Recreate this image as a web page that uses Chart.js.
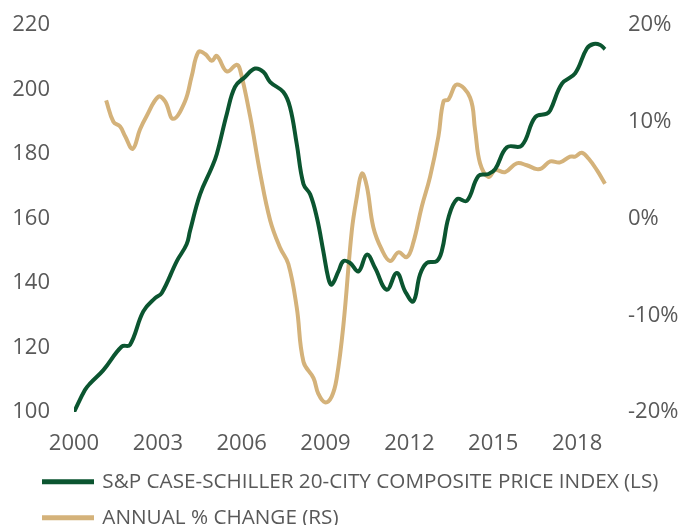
<!DOCTYPE html>
<html>
<head>
<meta charset="utf-8">
<script src="https://cdn.jsdelivr.net/npm/chart.js@4"></script>
<style>
  html, body { margin: 0; padding: 0; background: #fff; }
  #wrap { width: 699px; height: 525px; }
</style>
</head>
<body>
<div id="wrap"><canvas id="chart"></canvas></div>
<script>
const xTicks = [2000, 2003, 2006, 2009, 2012, 2015, 2018]

// S&P Case-Shiller 20-city index (left scale)
const indexYears = [
  2000.0, 2000.39, 2000.57, 2001.05, 2001.71, 2002.0, 2002.48, 2002.9, 2003.14, 2003.68,
  2004.03, 2004.15, 2004.51, 2004.93, 2005.11, 2005.47, 2005.76, 2006.12, 2006.48, 2006.78,
  2007.02, 2007.49, 2007.73, 2007.97, 2008.21, 2008.45, 2008.69, 2008.92, 2009.1, 2009.22,
  2009.46, 2009.64, 2009.88, 2010.18, 2010.48, 2010.77, 2011.19, 2011.55, 2011.85, 2012.14,
  2012.38, 2012.62, 2012.98, 2013.16, 2013.4, 2013.7, 2014.06, 2014.47, 2014.83, 2015.07,
  2015.49, 2016.02, 2016.5, 2016.92, 2017.04, 2017.46, 2017.93, 2018.35, 2018.59, 2018.83,
  2019.0,
]
const indexValues = [
  100, 106.8, 108.8, 113.0, 120.3, 120.8, 131.2, 135.3, 136.9, 146.8,
  152.0, 156.1, 167.5, 175.8, 180.0, 192.5, 200.8, 203.9, 206.5, 205.4,
  202.3, 199.2, 194.5, 183.1, 170.7, 167.5, 160.3, 149.9, 141.5, 139.5,
  143.6, 146.8, 146.2, 143.6, 148.8, 144.7, 137.9, 143.1, 137.4, 134.3,
  142.6, 146.2, 146.8, 149.9, 160.3, 166.0, 165.5, 173.2, 173.8, 175.3,
  182.1, 182.6, 191.4, 192.5, 193.5, 201.8, 205.0, 212.7, 214.1, 213.8,
  212.5,
]

// annual % change (right scale)
const changeYears = [
  2001.15, 2001.41, 2001.65, 2001.83, 2002.1, 2002.36, 2002.6, 2003.02, 2003.26, 2003.55,
  2003.97, 2004.21, 2004.45, 2004.69, 2004.93, 2005.11, 2005.47, 2005.82, 2005.94, 2006.3,
  2006.66, 2007.02, 2007.37, 2007.67, 2007.97, 2008.21, 2008.57, 2008.74, 2008.98, 2009.22,
  2009.4, 2009.64, 2009.94, 2010.12, 2010.3, 2010.48, 2010.71, 2011.01, 2011.31, 2011.61,
  2011.91, 2012.14, 2012.44, 2012.74, 2013.04, 2013.22, 2013.4, 2013.7, 2014.17, 2014.35,
  2014.53, 2014.83, 2015.07, 2015.43, 2015.84, 2016.2, 2016.56, 2016.74, 2017.04, 2017.39,
  2017.75, 2017.93, 2018.17, 2018.41, 2018.71, 2019.0,
]
const changeValues = [
  12.2, 10.0, 9.5, 8.5, 7.2, 9.2, 10.6, 12.6, 12.1, 10.3,
  12.1, 14.7, 17.2, 17.0, 16.3, 16.8, 15.2, 15.9, 15.4, 10.6,
  4.7, -0.2, -3.0, -4.7, -9.2, -14.8, -16.5, -18.1, -19.0, -18.4,
  -16.5, -11.0, -1.25, 2.2, 4.65, 3.3, -0.9, -3.2, -4.4, -3.5,
  -4.0, -2.5, 1.2, 4.3, 8.5, 12.1, 12.3, 13.85, 12.5, 9.2,
  5.7, 4.3, 5.0, 4.8, 5.7, 5.5, 5.1, 5.2, 5.9, 5.8,
  6.4, 6.4, 6.8, 6.2, 5.0, 3.6,
]

const GREEN = '#0b5530'
const TAN = '#d4b27a'
const GREY = '#595959'
const FONT = 'Open Sans'

const toPoints = (xs, ys) => xs.map((x, i) => ({ x, y: ys[i] }))

// push the legend to the right so its lines start under the axis labels
const legendShift = {
  id: 'legendShift',
  afterLayout(chart) {
    if (chart.legend) {
      chart.legend.left += 28.7
      chart.legend.right += 28.7
    }
  },
}

// keep the big tick padding from eating into the plot height
const trimPadding = (s) => {
  s.paddingTop = 12
  s.paddingBottom = 12
}

const canvas = document.getElementById('chart')

new Chart(canvas, {
  type: 'line',
  plugins: [legendShift],
  data: {
    datasets: [
      {
        label: 'S&P CASE-SCHILLER 20-CITY COMPOSITE PRICE INDEX (LS)',
        data: toPoints(indexYears, indexValues),
        borderColor: GREEN,
        backgroundColor: GREEN,
        borderWidth: 4,
        pointRadius: 0,
        tension: 0.4,
        yAxisID: 'y',
      },
      {
        label: 'ANNUAL % CHANGE (RS)',
        data: toPoints(changeYears, changeValues),
        borderColor: TAN,
        backgroundColor: TAN,
        borderWidth: 4,
        pointRadius: 0,
        tension: 0.4,
        yAxisID: 'y1',
      },
    ],
  },
  options: {
    responsive: true,
    maintainAspectRatio: false,
    animation: false,
    layout: { padding: { left: 0, right: 0, top: 25, bottom: -13 } },
    scales: {
      x: {
        type: 'linear',
        min: 2000,
        max: 2019.25,
        grid: { display: false, drawTicks: false },
        border: { display: false },
        afterBuildTicks: (s) => {
          s.ticks = xTicks.map((v) => ({ value: v }))
        },
        afterFit: (s) => {
          s.height = 44
        },
        ticks: {
          padding: 19,
          maxRotation: 0,
          autoSkip: false,
          color: GREY,
          font: { family: FONT, size: 22 },
          callback: (v) => String(v),
        },
      },
      y: {
        position: 'left',
        min: 100,
        max: 220,
        grid: { display: false, drawTicks: false },
        border: { display: false },
        afterFit: (s) => {
          s.width = 74
          trimPadding(s)
        },
        ticks: {
          stepSize: 20,
          padding: 24,
          color: GREY,
          font: { family: FONT, size: 22 },
        },
      },
      y1: {
        position: 'right',
        min: -20,
        max: 20,
        grid: { display: false, drawTicks: false },
        border: { display: false },
        afterFit: (s) => {
          s.width = 87
          trimPadding(s)
        },
        ticks: {
          stepSize: 10,
          padding: 16,
          color: GREY,
          font: { family: FONT, size: 22 },
          callback: (v) => v + '%',
        },
      },
    },
    plugins: {
      tooltip: { enabled: false },
      legend: {
        position: 'bottom',
        align: 'start',
        labels: {
          boxWidth: 48,
          boxHeight: 1,
          padding: 15.3,
          color: GREY,
          font: { family: FONT, size: 20.7 },
        },
      },
    },
  },
})
</script>
</body>
</html>
